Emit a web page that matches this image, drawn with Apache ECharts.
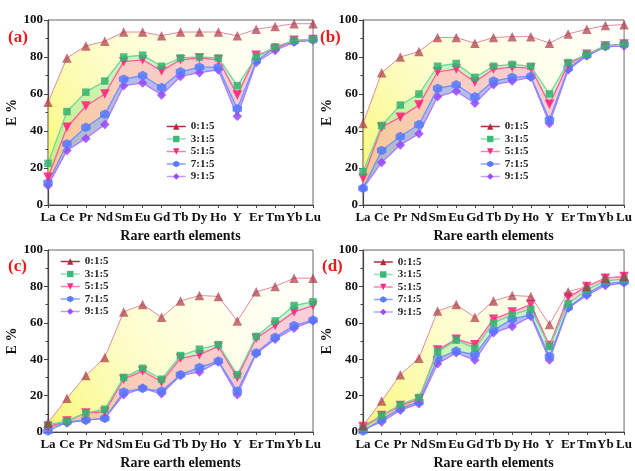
<!DOCTYPE html>
<html>
<head>
<meta charset="utf-8">
<script src="https://cdn.jsdelivr.net/npm/echarts@6/dist/echarts.min.js"></script>
<style>
  html, body { margin: 0; padding: 0; background: #fff; }
  #chart { width: 635px; height: 471px; }
</style>
</head>
<body>
<div id="chart"></div>
<script>
// Extraction efficiency E (%) of each rare earth element for five ratios
const elements = ['La','Ce','Pr','Nd','Sm','Eu','Gd','Tb','Dy','Ho','Y','Er','Tm','Yb','Lu'];
const ratios = ['0:1:5','3:1:5','5:1:5','7:1:5','9:1:5'];
const panelLabels = ['(a)','(b)','(c)','(d)'];
const yTicks = [0, 20, 40, 60, 80, 100];

// panel (a)
const a0 = [55.5, 79.5, 86, 88.5, 93.5, 93.5, 91.5, 93.5, 93.5, 93.5, 91.5, 95, 96.5, 98, 98];
const a3 = [22.5, 50.5, 61, 67, 80, 81, 75, 79.5, 80, 79.5, 64.5, 80, 85.5, 89, 89.5];
const a5 = [15, 42, 53.5, 60, 77.5, 78.5, 72.5, 78.5, 79.5, 78.5, 59.5, 81, 84.5, 89, 89.5];
const a7 = [12, 33, 42, 49, 68, 70, 63.5, 72, 74.5, 74.5, 52, 78, 85, 88.5, 89.5];
const a9 = [10.5, 29.5, 36, 43.5, 64.5, 66, 59.5, 69.5, 71.5, 73, 48, 77, 83.5, 88, 89];

// panel (b)
const b0 = [44, 71.5, 80, 83, 90.5, 90.5, 87.5, 90.5, 91, 91, 87.5, 92.5, 95, 97, 97.5];
const b3 = [18, 43, 54, 60, 75, 76.5, 69, 75, 76, 75, 60, 77, 81.5, 86, 87];
const b5 = [14.5, 42, 47.5, 54, 72, 73.5, 66.5, 73.5, 74.5, 74, 54.5, 76, 81.5, 86, 87];
const b7 = [9, 29.5, 37, 43.5, 63, 65, 58.5, 67, 69, 69.5, 46, 74, 81, 86, 87];
const b9 = [9, 23, 32.5, 38.5, 58.5, 61.5, 55, 65, 67, 69, 44, 73, 80.5, 85.5, 86];

// panel (c)
const c0 = [5, 18.5, 31, 41, 66, 70, 63, 72, 75, 74.5, 61, 77, 80, 84.5, 84.5];
const c3 = [4, 6, 10.5, 12.5, 30, 35, 29, 42, 45.5, 48, 31.5, 52.5, 61, 69.5, 71.5];
const c5 = [3, 6, 10.5, 11, 29, 33.5, 27.5, 40.5, 42.5, 47, 30, 51.5, 58.5, 66, 69.5];
const c7 = [0.5, 5.5, 6.5, 7.5, 22, 24, 22.5, 31.5, 35.5, 39, 22.5, 43.5, 52, 58.5, 61.5];
const c9 = [2.5, 5, 6.5, 7.5, 20.5, 24, 21, 31, 33, 38.5, 20.5, 43, 51, 57, 61];

// panel (d)
const d0 = [3.5, 17, 31.5, 40.5, 66.5, 70, 63, 72, 75, 74.5, 59, 77, 80, 84.5, 85.5];
const d3 = [2, 9, 15, 19, 44, 50.5, 46, 60, 64.5, 67.5, 47, 70.5, 78, 83, 84];
const d5 = [3, 9, 14.5, 18, 45, 51, 48, 62, 66, 70, 47.5, 74, 80, 84.5, 85.5];
const d7 = [0.5, 7, 13, 16.5, 40.5, 44.5, 42.5, 56, 62, 64.5, 41.5, 68.5, 76, 81.5, 82.5];
const d9 = [1.5, 5.5, 12, 15.5, 37.5, 43.5, 39.5, 54.5, 58, 63.5, 39.5, 68, 75, 80.5, 82];

const panelData = [
  [a0, a3, a5, a7, a9],
  [b0, b3, b5, b7, b9],
  [c0, c3, c5, c7, c9],
  [d0, d3, d5, d7, d9]
];

// ---- styling ----
const SERIF = "'Liberation Serif', 'Times New Roman', serif";
const grids = [
  { left: 48,  top: 20,  width: 265, height: 185 },
  { left: 363, top: 20,  width: 265, height: 185 },
  { left: 48,  top: 250, width: 265, height: 185 },
  { left: 363, top: 250, width: 265, height: 185 }
];
const legendPos = [
  { left: 166, top: 120.5 },
  { left: 480, top: 120.5 },
  { left: 60,  top: 255.5 },
  { left: 373, top: 256 }
];
const labelPos = [[8, 39], [320, 39], [8, 268], [322, 268]];

const hexagon = 'path://M0,-10 L8.66,-5 L8.66,5 L0,10 L-8.66,5 L-8.66,-5 Z';
const seriesStyle = [
  { symbol: 'triangle', size: 9.5, rotate: 0,   line: '#e48aa6', mark: 'rgba(168,48,64,0.68)', legendLine: '#a8303c', legendMark: '#a8303c' },
  { symbol: 'rect',     size: 7.5, rotate: 0,   line: '#74d49e', mark: 'rgba(52,178,112,0.85)', legendLine: '#8fe0b0', legendMark: '#3cb878' },
  { symbol: 'triangle', size: 9.5, rotate: 180, line: '#ff5c9f', mark: 'rgba(255,30,125,0.85)', legendLine: '#ff7fb4', legendMark: '#ff2a85' },
  { symbol: hexagon,    size: 9.5, rotate: 0,   line: '#7290ff', mark: 'rgba(85,120,255,0.85)', legendLine: '#8aa2ff', legendMark: '#5a7dff' },
  { symbol: 'diamond',  size: 9.5, rotate: 0,   line: '#b278ff', mark: 'rgba(150,70,255,0.85)', legendLine: '#c49aff', legendMark: '#9b4dff' }
];
// band below each ratio line (filled down to the next lower line)
const bandColor = [
  null,
  'rgba(120,228,150,0.38)',
  'rgba(242,125,168,0.38)',
  'rgba(100,120,255,0.48)'
];
// pale yellow wash, strongest toward the lower left
const yellowFill = {
  type: 'linear', x: 0, y: 1, x2: 1, y2: 0,
  colorStops: [
    { offset: 0,    color: 'rgba(245,245,50,0.68)' },
    { offset: 0.35, color: 'rgba(250,250,120,0.42)' },
    { offset: 0.7,  color: 'rgba(255,255,190,0.28)' },
    { offset: 1,    color: 'rgba(255,255,230,0.20)' }
  ]
};

// next lower line value below series k at point i (among ratios 3..9)
function lowerOf(sets, k, i) {
  const v = sets[k][i];
  let best = null;
  for (let j = 1; j < sets.length; j++) {
    if (j === k) continue;
    const w = sets[j][i];
    if (w < v || (w === v && j > k)) {
      if (best === null || w > best) best = w;
    }
  }
  return best === null ? v : best;
}

function round2(x) { return Math.round(x * 100) / 100; }

const xAxes = [], yAxes = [], series = [], legends = [], graphics = [];

panelData.forEach((sets, p) => {
  xAxes.push({
    type: 'category', gridIndex: p, data: elements, boundaryGap: false,
    name: 'Rare earth elements', nameLocation: 'middle', nameGap: 24,
    nameTextStyle: { fontFamily: SERIF, fontWeight: 'bold', fontSize: 14, color: '#111' },
    axisLine: { lineStyle: { color: '#444', width: 1.2 } },
    axisTick: { show: true, alignWithLabel: true, length: 3, lineStyle: { color: '#444' } },
    axisLabel: { interval: 0, margin: 6, fontFamily: SERIF, fontWeight: 'bold', fontSize: 13, color: '#111' },
    splitLine: { show: false }
  });
  yAxes.push({
    type: 'value', gridIndex: p, min: 0, max: 100, interval: 20,
    name: 'E %', nameLocation: 'middle', nameGap: 22,
    nameTextStyle: { fontFamily: SERIF, fontWeight: 'bold', fontSize: 14, color: '#111' },
    axisLine: { show: true, lineStyle: { color: '#444', width: 1.2 } },
    axisTick: { show: true, length: 4, lineStyle: { color: '#444' } },
    minorTick: { show: true, splitNumber: 2, length: 2.5, lineStyle: { color: '#444' } },
    axisLabel: { margin: 5, fontFamily: SERIF, fontWeight: 'bold', fontSize: 13, color: '#111',
      formatter: v => (yTicks.indexOf(v) >= 0 ? String(v) : '') },
    splitLine: { show: false }
  });

  const n = elements.length;
  // yellow band: from 0:1:5 down to the lowest line
  const yBase = [], yDiff = [];
  for (let i = 0; i < n; i++) {
    const lo = Math.min(sets[1][i], sets[2][i], sets[3][i], sets[4][i]);
    yBase.push(lo);
    yDiff.push(round2(sets[0][i] - lo));
  }
  const fillCommon = {
    type: 'line', xAxisIndex: p, yAxisIndex: p, showSymbol: false, symbol: 'none',
    silent: true, legendHoverLink: false, lineStyle: { width: 0, opacity: 0 },
    emphasis: { disabled: true }, z: 1
  };
  series.push(Object.assign({}, fillCommon, { name: 'fill-y-base-' + p, stack: 'y' + p, data: yBase }));
  series.push(Object.assign({}, fillCommon, { name: 'fill-y-' + p, stack: 'y' + p, data: yDiff,
    areaStyle: { color: yellowFill, opacity: 1 } }));

  for (let k = 1; k <= 3; k++) {
    const base = [], diff = [];
    for (let i = 0; i < n; i++) {
      const lo = lowerOf(sets, k, i);
      base.push(lo);
      diff.push(round2(sets[k][i] - lo));
    }
    series.push(Object.assign({}, fillCommon, { name: 'fill-' + k + '-base-' + p, stack: 'b' + k + '-' + p, data: base, z: 2 }));
    series.push(Object.assign({}, fillCommon, { name: 'fill-' + k + '-' + p, stack: 'b' + k + '-' + p, data: diff, z: 2,
      areaStyle: { color: bandColor[k], opacity: 1 } }));
  }

  sets.forEach((vals, k) => {
    const st = seriesStyle[k];
    series.push({
      name: ratios[k], type: 'line', xAxisIndex: p, yAxisIndex: p, data: vals,
      symbol: st.symbol, symbolSize: st.size, symbolRotate: st.rotate, showAllSymbol: true,
      lineStyle: { color: st.line, width: k === 0 ? 1 : 1.3 },
      itemStyle: { color: st.mark },
      emphasis: { disabled: true }, z: 5 + (4 - k)
    });
  });

  legends.push({
    left: legendPos[p].left, top: legendPos[p].top, orient: 'vertical', padding: 0,
    itemWidth: 19, itemHeight: 8, itemGap: 0.5, selectedMode: false,
    textStyle: { fontFamily: SERIF, fontWeight: 'bold', fontSize: 11, lineHeight: 12, color: '#222' },
    data: ratios.map((r, k) => ({
      name: r,
      itemStyle: { color: seriesStyle[k].legendMark },
      lineStyle: { color: seriesStyle[k].legendLine, width: 1.5 }
    }))
  });

  graphics.push({
    type: 'text', left: labelPos[p][0], top: labelPos[p][1] - 10,
    style: { text: panelLabels[p], fill: '#f01818', font: 'bold 17px ' + SERIF }
  });
});

const chart = echarts.init(document.getElementById('chart'), null, { renderer: 'canvas' });
chart.setOption({
  backgroundColor: '#fff',
  animation: false,
  grid: grids.map(g => Object.assign({ show: true, borderColor: '#666', borderWidth: 1, backgroundColor: 'transparent' }, g)),
  xAxis: xAxes,
  yAxis: yAxes,
  legend: legends,
  series: series,
  graphic: graphics
});
</script>
</body>
</html>
